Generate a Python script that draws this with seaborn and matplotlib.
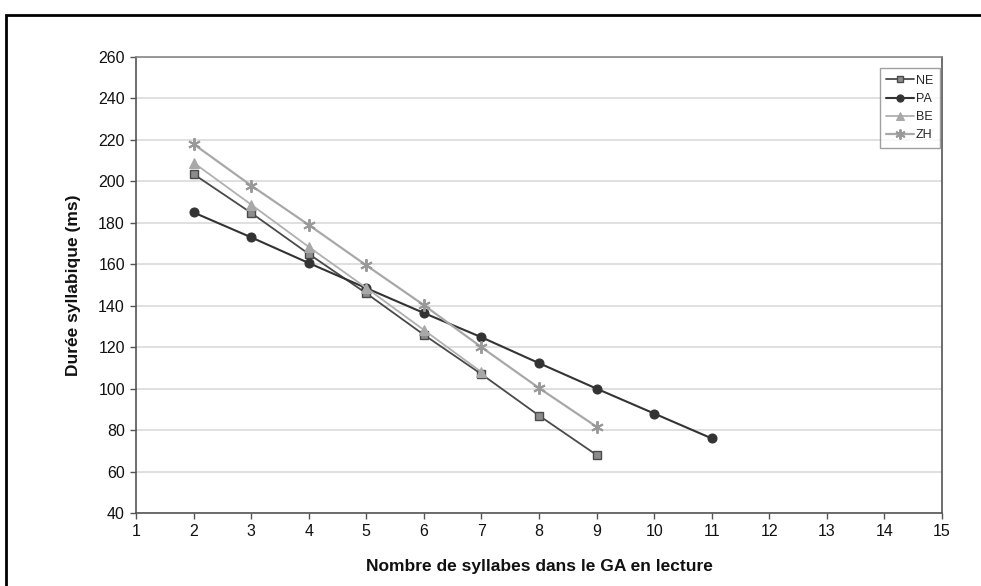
import matplotlib
matplotlib.use("Agg")
import matplotlib.pyplot as plt
import seaborn as sns
import pandas as pd
from matplotlib.patches import Rectangle

sns.set_theme(style="white")
plt.rcParams['font.family'] = ['Liberation Sans', 'DejaVu Sans']

x_ne = [2, 3, 4, 5, 6, 7, 8, 9]
ne = [203.5, 184.8, 165, 146, 126, 107, 87, 68]
x_pa = [2, 3, 4, 5, 6, 7, 8, 9, 10, 11]
pa = [185, 173, 160.6, 148.5, 136.5, 124.8, 112.3, 100, 88, 76]
x_be = [2, 3, 4, 5, 6, 7]
be = [209, 188.8, 168.4, 148.6, 128.3, 108]
x_zh = [2, 3, 4, 5, 6, 7, 8, 9]
zh = [218, 198, 179, 159.5, 140.3, 120, 100.3, 81.6]

y_ticks = list(range(40, 261, 20))
x_ticks = list(range(1, 16))

series = [
    ("NE", x_ne, ne, dict(color="#4a4a4a", marker="s", markersize=6, markerfacecolor="#8c8c8c",
                          markeredgecolor="#4a4a4a", markeredgewidth=1.0, linewidth=1.3)),
    ("PA", x_pa, pa, dict(color="#333333", marker="o", markersize=6.5, markerfacecolor="#333333",
                          markeredgecolor="#333333", linewidth=1.5)),
    ("BE", x_be, be, dict(color="#b0b0b0", marker="^", markersize=6.5, markerfacecolor="#a8a8a8",
                          markeredgecolor="#a8a8a8", linewidth=1.3)),
    ("ZH", x_zh, zh, dict(color="#a8a8a8", marker=(6, 2, 0), markersize=9, markerfacecolor="#999999",
                          markeredgecolor="#999999", markeredgewidth=1.4, linewidth=1.6)),
]

fig = plt.figure(figsize=(9.81, 5.86), dpi=100)
ax = fig.add_axes([136/981, 1-513/586, (942-136)/981, (513-57)/586])

for name, xs, ys, kw in series:
    df = pd.DataFrame({"x": xs, "y": ys})
    sns.lineplot(data=df, x="x", y="y", ax=ax, label=name, **kw)

ax.set_xlim(1, 15)
ax.set_ylim(40, 260)
ax.set_xticks(x_ticks)
ax.set_yticks(y_ticks)
ax.tick_params(axis='both', labelsize=11.5, colors="#111111", length=4, width=1, direction='out',
               color="#555555", pad=4)
ax.tick_params(axis='both', bottom=True, left=True)
ax.yaxis.grid(True, color="#dddddd", linewidth=1.3)
ax.xaxis.grid(False)
ax.set_axisbelow(True)
for s in ax.spines.values():
    s.set_color("#555555")
    s.set_linewidth(1.2)
ax.spines['top'].set_color("#888888")

ax.set_xlabel("Nombre de syllabes dans le GA en lecture", fontsize=12.5, fontweight="bold",
              color="#111111", labelpad=14)
ax.set_ylabel("Durée syllabique (ms)", fontsize=12.5, fontweight="bold", color="#111111", labelpad=12)

leg = ax.legend(loc="upper right", bbox_to_anchor=(0.997, 0.975), fontsize=9, frameon=True,
                fancybox=False, edgecolor="#888888", handlelength=2.2, handletextpad=0.2,
                borderpad=0.5, labelspacing=0.5, borderaxespad=0, markerscale=0.8)
leg.get_frame().set_linewidth(1.0)

fig.patches.append(Rectangle((6/981, -0.05), 1.2, 1-15/586+0.05, transform=fig.transFigure,
                             fill=False, edgecolor="black", linewidth=2, figure=fig))

fig.savefig("out.png", dpi=100)
